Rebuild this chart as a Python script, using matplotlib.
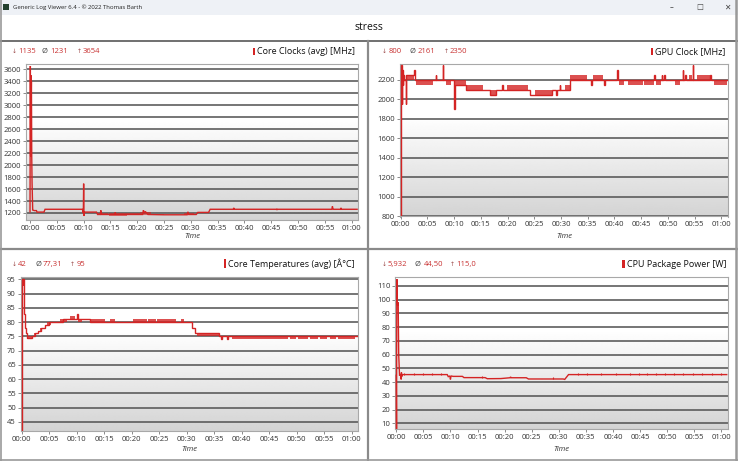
import numpy as np
import matplotlib
matplotlib.use("Agg")
import matplotlib.pyplot as plt
from matplotlib.lines import Line2D
from matplotlib.patches import Rectangle

plt.rcParams['font.family'] = ['Open Sans', 'DejaVu Sans']

W, H = 738, 461

# ---- data (minutes, values) ----
clk_pts = [(0.0, 1220), (0.06, 3654), (0.12, 2150), (0.16, 3500), (0.2, 2950), (0.26, 3400),
           (0.32, 2150), (0.38, 1700), (0.5, 1250), (0.8, 1240), (1.2, 1240), (1.3, 1215),
           (2.6, 1215), (2.8, 1262), (9.8, 1262), (9.9, 1200), (9.95, 1240), (10.0, 1690),
           (10.05, 1150), (10.12, 1210), (10.2, 1215), (12.4, 1215), (12.6, 1175), (13.1, 1175),
           (13.2, 1245), (13.3, 1175), (14.5, 1175), (15.8, 1175), (15.9, 1210), (16.0, 1175),
           (21.0, 1175), (21.15, 1245), (21.3, 1200), (21.5, 1225), (22.0, 1175), (25.0, 1170),
           (29.3, 1170), (29.45, 1220), (29.6, 1175), (31.0, 1175), (31.3, 1210), (33.3, 1210),
           (33.6, 1262), (37.9, 1262), (38.0, 1285), (38.1, 1262), (46.0, 1262), (46.05, 1250),
           (46.1, 1262), (56.3, 1262), (56.4, 1310), (56.5, 1270), (56.6, 1262), (57.9, 1262),
           (58.0, 1285), (58.1, 1262), (61.0, 1262)]
clk_noise = [(12.6, 14.5, 1160, 1195), (14.8, 18.0, 1150, 1200), (18.0, 20.5, 1165, 1200),
             (20.5, 22.5, 1170, 1215), (22.5, 25.0, 1160, 1190), (28.8, 30.5, 1160, 1200)]

gpu_pts = [(0.0, 800), (0.05, 2350), (0.15, 1950), (0.25, 2300), (0.35, 2150), (0.45, 2250),
           (0.55, 2200), (0.95, 1950), (1.05, 2250), (2.55, 2300), (2.65, 2200), (6.55, 2250),
           (6.65, 2200), (7.85, 2350), (7.95, 2200), (10.0, 1900), (10.1, 2150), (12.2, 2100),
           (16.7, 2050), (17.9, 2100), (19.0, 2150), (19.1, 2100), (24.2, 2050), (25.1, 2050),
           (28.3, 2100), (29.1, 2050), (29.25, 2100), (29.8, 2150), (29.9, 2100), (31.7, 2200),
           (34.8, 2200), (35.6, 2150), (35.75, 2200), (38.0, 2150), (38.15, 2200), (40.55, 2300),
           (40.65, 2200), (47.45, 2250), (47.55, 2200), (48.85, 2250), (48.95, 2200),
           (49.35, 2250), (49.45, 2200), (52.75, 2300), (52.85, 2200), (53.2, 2250), (53.3, 2200),
           (54.65, 2350), (54.75, 2200), (57.95, 2250), (58.05, 2200), (61.0, 2200)]
gpu_blocks = [(1.05, 2.55, 2200, 2250), (2.9, 6.1, 2150, 2200), (8.4, 9.5, 2150, 2200),
              (10.1, 12.2, 2150, 2200), (12.2, 15.4, 2100, 2150), (16.7, 17.9, 2050, 2100),
              (19.8, 23.9, 2100, 2150), (25.1, 28.3, 2050, 2100), (30.8, 31.7, 2100, 2150),
              (31.7, 34.8, 2200, 2250), (36.0, 37.9, 2200, 2250), (40.8, 41.7, 2150, 2200),
              (42.5, 45.3, 2150, 2200), (45.6, 47.4, 2150, 2200), (47.75, 48.8, 2150, 2200),
              (51.25, 52.3, 2150, 2200), (53.9, 54.6, 2200, 2250), (55.4, 57.9, 2200, 2250),
              (58.6, 61.0, 2150, 2200)]

tmp_pts = [(0.0, 42), (0.06, 95), (0.2, 93), (0.3, 95), (0.42, 88), (0.5, 83), (0.58, 80),
           (0.68, 78), (0.8, 76), (0.92, 74.5), (1.8, 75), (2.4, 76), (3.0, 77), (3.6, 78),
           (4.3, 79), (5.0, 80), (7.6, 81), (10.05, 83), (10.15, 81), (12.4, 80), (30.6, 80),
           (31.0, 78), (31.5, 76), (35.8, 75), (36.2, 74), (36.4, 75), (37.4, 74), (37.6, 75),
           (61.0, 75)]
tmp_blocks = [(0.92, 1.8, 74, 75), (2.2, 2.6, 75, 76), (3.3, 3.7, 77, 78), (4.6, 5.4, 79, 80),
              (7.0, 8.2, 80, 81), (8.8, 9.7, 81, 82), (10.2, 10.9, 80, 81), (12.4, 15.2, 80, 81),
              (16.1, 17.0, 80, 81), (20.3, 22.7, 80, 81), (23.0, 24.5, 80, 81), (24.6, 28.0, 80, 81),
              (29.0, 29.6, 80, 81), (31.8, 35.8, 75, 76), (38.3, 48.5, 74, 75), (48.7, 49.8, 74, 75),
              (50.3, 52.0, 74, 75), (52.5, 53.8, 74, 75), (54.3, 55.5, 74, 75), (56.0, 57.2, 74, 75),
              (57.6, 60.6, 74, 75)]

pwr_pts = [(0.0, 45), (0.05, 6), (0.1, 115), (0.15, 100), (0.25, 96), (0.35, 98), (0.45, 60),
           (0.6, 45), (0.85, 45), (0.9, 42), (0.95, 47), (1.0, 44), (1.1, 45.5), (9.4, 45.5),
           (9.6, 44), (9.9, 44.5), (10.0, 42), (10.1, 44.5), (10.5, 44.2), (12.2, 44.2),
           (12.5, 43.3), (16.4, 43.3), (16.8, 42.5), (19.3, 42.6), (21.0, 43.2), (21.1, 43.8),
           (21.2, 43.2), (24.0, 43.2), (24.4, 42.3), (30.8, 42.3), (31.1, 42.0), (31.5, 44.0),
           (31.8, 45.5), (61.0, 45.5)]
pwr_spk_t = [1.5, 3.2, 4.9, 6.6, 8.3, 15.8, 29.0, 33.5, 35.2, 37.8, 40.5, 43.2, 44.8, 46.3,
             48.0, 49.6, 51.2, 53.0, 54.8, 56.5, 58.2, 60.0]
pwr_spk_v = [46.8, 46.8, 46.8, 46.8, 46.8, 44.5, 43.8, 46.8, 46.8, 46.6, 46.6, 46.6, 46.6, 46.6,
             46.6, 46.6, 46.8, 46.6, 46.8, 46.6, 46.6, 46.6]

time_ticks = list(range(0, 61, 5))
time_labels = ["00:%02d" % m for m in range(0, 60, 5)] + ["01:00"]

RED = '#d42424'

fig = plt.figure(figsize=(W / 100, H / 100), dpi=100)
fig.patch.set_facecolor('white')


def fx(x):
    return x / W


def fy(y):
    return 1 - y / H


def hline(y, x0, x1, color, lw):
    fig.add_artist(Line2D([fx(x0), fx(x1)], [fy(y), fy(y)], transform=fig.transFigure,
                          color=color, lw=lw))


def vline(x, y0, y1, color, lw):
    fig.add_artist(Line2D([fx(x), fx(x)], [fy(y0), fy(y1)], transform=fig.transFigure,
                          color=color, lw=lw))


# window title bar
fig.patches.append(Rectangle((0, fy(15)), 1, 15 / H, transform=fig.transFigure,
                             facecolor='#eef1f6', edgecolor='none'))
fig.patches.append(Rectangle((fx(3), fy(10)), 6 / W, 6 / H, transform=fig.transFigure,
                             facecolor='#24402e', edgecolor='none'))
fig.text(fx(13), fy(7.5), "Generic Log Viewer 6.4 - © 2022 Thomas Barth", fontsize=4.3,
         color='#222222', va='center')
for xc, s in [(672, '–'), (700, '☐'), (727, '✕')]:
    fig.text(fx(xc), fy(7.5), s, fontsize=5.5, color='#444444', ha='center', va='center',
             family=['DejaVu Sans'])

fig.text(0.5, fy(27), "stress", fontsize=7.5, color='#111111', ha='center', va='center')
hline(41, 0, 738, '#707070', 1.4)
vline(368, 41, 461, '#8a8a8a', 1.6)
hline(249, 0, 738, '#8a8a8a', 1.6)
vline(0.7, 0, 461, '#9a9a9a', 1.2)
vline(736, 0, 461, '#9a9a9a', 1.8)
hline(460.3, 0, 738, '#9a9a9a', 1.2)

grad = np.ones((200, 1))
grad[70:, 0] = np.linspace(1.0, 0.83, 130)

panels = [
    dict(box=(26, 64, 358, 220), pts=clk_pts, steps=False, xl=(-0.75, 61.17), yl=(1083, 3688),
         yt=range(1200, 3601, 200), label="Core Clocks (avg) [MHz]",
         stats=[(11.5, 18.0, "1135"), (42.0, 50, "1231"), (76.5, 83.0, "3654")], sy=51.7,
         lab_r=355, ty=236.7),
    dict(box=(399.7, 64, 728, 216.5), pts=gpu_pts, steps=True, xl=(-0.19, 61.25), yl=(797, 2364),
         yt=range(800, 2201, 200), label="GPU Clock [MHz]",
         stats=[(381.5, 388.5, "800"), (409.0, 417.5, "2161"), (443.5, 450.0, "2350")], sy=51.7,
         lab_r=725.7, ty=236.7),
    dict(box=(20.7, 277.3, 358.3, 430.7), pts=tmp_pts, steps=True, xl=(-0.18, 61.2),
         yl=(41.9, 95.7), yt=range(45, 96, 5), label="Core Temperatures (avg) [Â°C]",
         stats=[(11.5, 18.0, "42"), (35.0, 43.0, "77,31"), (70.0, 77.0, "95")], sy=264,
         lab_r=355, ty=449.3),
    dict(box=(395.3, 277.3, 728, 429), pts=pwr_pts, steps=False, xl=(-0.18, 61.24),
         yl=(5.9, 116.3), yt=range(10, 111, 10), label="CPU Package Power [W]",
         stats=[(381.5, 388.0, "5,932"), (414.5, 423.5, "44,50"), (450.0, 456.5, "115,0")], sy=264,
         lab_r=726.3, ty=449.3),
]

label_texts = []
for i, p in enumerate(panels):
    x0, y0, x1, y1 = p['box']
    ax = fig.add_axes([fx(x0), fy(y1), (x1 - x0) / W, (y1 - y0) / H])
    ax.imshow(grad, cmap='gray', vmin=0, vmax=1, aspect='auto', extent=(0, 1, 0, 1),
              transform=ax.transAxes, zorder=0, interpolation='bilinear')
    for yv in p['yt']:
        ax.axhline(yv, color='#565656', lw=1.15, zorder=1)
    t, v = zip(*p['pts'])
    ax.plot(t, v, color=RED, lw=1.0, zorder=3, drawstyle='steps-post' if p['steps'] else 'default',
            solid_joinstyle='miter')
    if i == 0:
        for a, b, lo, hi in clk_noise:
            ax.fill_between([a, b], lo, hi, color=RED, alpha=0.6, lw=0, zorder=2)
    if i == 1:
        for a, b, lo, hi in gpu_blocks:
            ax.fill_between([a, b], lo, hi, color=RED, alpha=0.8, lw=0, zorder=2)
    if i == 2:
        for a, b, lo, hi in tmp_blocks:
            ax.fill_between([a, b], lo, hi, color=RED, alpha=0.8, lw=0, zorder=2)
    if i == 3:
        ax.vlines(pwr_spk_t, np.array(pwr_spk_v) - 1.6, pwr_spk_v, color=RED, lw=0.8, zorder=3)
    ax.set_xlim(*p['xl'])
    ax.set_ylim(*p['yl'])
    ax.set_yticks(list(p['yt']))
    ax.set_yticklabels([str(y) for y in p['yt']])
    ax.set_xticks(time_ticks)
    ax.set_xticklabels(time_labels)
    ax.tick_params(labelsize=5.5, labelcolor='#333333', length=2, width=0.6, color='#777777',
                   pad=1.5)
    for s in ax.spines.values():
        s.set_color('#a8a8a8')
        s.set_linewidth(0.8)
    cx = (x0 + x1) / 2
    fig.text(fx(cx), fy(p['ty']), "Time", fontsize=5.5, style='italic', color='#333333',
             ha='center', va='center')
    # stats line: min, average, max
    (ax1, nx1, n1), (ax2, nx2, n2), (ax3, nx3, n3) = p['stats']
    fig.text(fx(ax1), fy(p['sy']), "↓", fontsize=4.3, color='#9a4848', va='center',
             family=['DejaVu Sans'])
    fig.text(fx(nx1), fy(p['sy']), n1, fontsize=5.5, color='#c83232', va='center')
    fig.text(fx(ax2), fy(p['sy']), "Ø", fontsize=5.5, color='#444444', va='center')
    fig.text(fx(nx2), fy(p['sy']), n2, fontsize=5.5, color='#c83232', va='center')
    fig.text(fx(ax3), fy(p['sy']), "↑", fontsize=4.3, color='#9a4848', va='center',
             family=['DejaVu Sans'])
    fig.text(fx(nx3), fy(p['sy']), n3, fontsize=5.5, color='#c83232', va='center')
    lt = fig.text(fx(p['lab_r']), fy(p['sy']), p['label'], fontsize=6.5, color='#111111',
                  ha='right', va='center')
    label_texts.append(lt)

# red marker bar in front of each series label
fig.canvas.draw()
rend = fig.canvas.get_renderer()
for lt in label_texts:
    bb = lt.get_window_extent(rend)
    fig.patches.append(Rectangle(((bb.x0 - 4.5) / W, (bb.y0 + 1) / H), 2.6 / W,
                                 (bb.height - 1.5) / H, transform=fig.transFigure,
                                 facecolor=RED, edgecolor='none'))

fig.savefig("out.png", dpi=100)
